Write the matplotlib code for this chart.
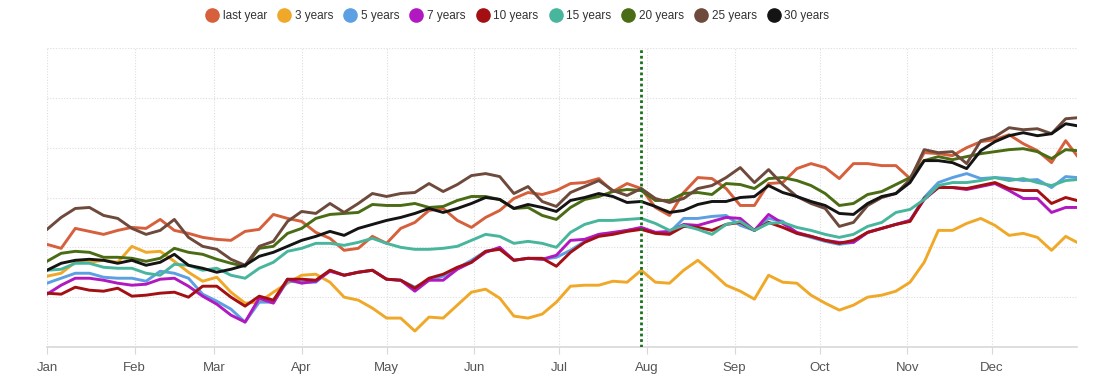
import numpy as np
import matplotlib
matplotlib.use("Agg")
import matplotlib.pyplot as plt
from matplotlib.lines import Line2D

# ---- data ----
start = np.datetime64("2023-01-01")
day_offsets = list(range(0, 365, 5)) + [364]
dates = start + np.array(day_offsets).astype("timedelta64[D]")

last_year = [103,99,119,116,113,117,120,119,128,117,114,110,108,107,116,118,133,129,126,115,109,97,99,111,104,119,125,137,139,127,120,130,137,149,155,153,157,164,165,169,156,164,159,140,132,155,170,169,159,142,142,164,165,179,184,180,169,184,184,182,182,169,195,194,192,200,206,208,213,204,197,185,207,192]
years_3 = [71,74,85,85,87,85,101,95,96,86,75,66,70,55,44,45,55,64,72,73,65,50,47,39,29,29,16,30,29,42,55,58,49,31,29,33,45,61,62,62,66,65,77,65,64,77,87,75,62,56,48,72,65,64,52,44,37,42,50,52,56,65,85,117,117,124,129,122,112,114,110,97,111,105]
years_5 = [64,69,74,74,70,69,69,66,76,74,69,53,46,38,25,45,45,66,65,65,77,72,75,77,68,67,60,67,71,79,87,96,99,87,89,88,90,97,106,113,114,117,119,115,115,129,129,131,132,122,117,129,126,114,110,106,103,105,115,119,123,127,150,165,170,174,169,170,169,167,168,160,171,170]
years_7 = [53,62,69,69,67,64,62,63,68,69,61,51,43,32,25,49,44,68,64,66,76,72,75,77,68,67,56,67,67,78,85,95,100,87,89,88,92,107,108,113,115,117,120,115,116,123,122,126,130,129,117,133,124,115,111,107,105,105,115,119,123,127,148,160,160,158,161,164,157,149,149,135,140,140]
years_10 = [54,53,60,57,56,59,51,52,54,55,50,61,61,50,41,51,47,68,68,67,77,72,75,77,68,67,59,69,73,80,85,96,98,87,89,89,81,95,105,111,113,116,118,114,113,121,120,117,123,125,117,125,120,114,111,107,104,107,115,119,123,126,149,160,160,159,162,165,159,157,157,144,150,147]
years_15 = [77,78,84,84,80,79,79,74,72,83,82,77,79,72,69,79,85,96,99,104,104,102,105,109,104,100,98,98,99,101,107,113,111,104,106,104,100,115,123,127,127,128,129,124,117,122,118,113,123,126,117,124,125,120,117,113,110,113,121,125,135,138,148,162,165,165,167,170,167,169,165,162,167,168]
years_20 = [86,94,96,95,90,90,89,86,89,99,95,93,88,84,81,99,101,114,119,129,133,134,135,143,142,142,144,140,141,147,151,151,148,139,140,132,128,140,148,151,156,158,157,147,147,154,155,153,164,163,159,169,170,167,162,154,142,144,153,156,163,170,187,191,188,191,194,196,198,199,196,189,198,197]
years_25 = [118,130,139,140,132,129,119,113,117,128,110,101,98,88,82,101,106,126,136,134,144,135,144,154,151,154,155,164,156,163,172,174,171,154,161,146,141,155,161,167,157,152,159,149,145,149,159,162,170,180,165,178,163,151,144,139,121,125,142,150,154,168,198,195,196,184,207,211,220,218,219,214,229,230]
years_30 = [77,84,87,88,87,84,87,82,85,93,82,79,75,78,82,91,95,101,107,111,116,112,119,123,127,130,134,139,135,139,144,150,148,139,143,140,136,147,150,154,151,145,146,141,135,137,143,146,146,150,151,162,155,151,146,142,134,133,144,151,154,165,187,187,185,179,197,206,212,215,212,214,224,222]

series_names = ["last year", "3 years", "5 years", "7 years", "10 years",
                "15 years", "20 years", "25 years", "30 years"]
series_values = [last_year, years_3, years_5, years_7, years_10,
                 years_15, years_20, years_25, years_30]
series_colors = ["#d65f3c", "#f0a828", "#5c9fe3", "#b218c0", "#a30f12",
                 "#48b69d", "#4a6c14", "#6e4a3c", "#141414"]

marker_date = np.datetime64("2023-07-30")
month_labels = ["Jan", "Feb", "Mar", "Apr", "May", "Jun",
                "Jul", "Aug", "Sep", "Oct", "Nov", "Dec"]

# ---- figure ----
fig = plt.figure(figsize=(10.97, 3.89), dpi=100)
ax = fig.add_axes([47/1097, 42/389, 1030/1097, 299/389])

for name, vals, col in zip(series_names, series_values, series_colors):
    ax.plot(dates, vals, color=col, lw=2.1, label=name, solid_joinstyle="round")

ax.axvline(marker_date, color="#17701a", lw=2.0, ls=(0, (1.0, 1.0)), zorder=5)

ax.set_xlim(np.datetime64("2023-01-01"), np.datetime64("2023-12-31"))
ax.set_ylim(0, 300)
ax.set_yticks(np.arange(0, 301, 50))
ax.tick_params(axis="y", left=False, labelleft=False)

month_starts = [np.datetime64(f"2023-{m:02d}-01") for m in range(1, 13)]
ax.set_xticks(month_starts)
ax.set_xticklabels(month_labels, fontsize=9.5, color="#555555",
                   family=["Liberation Sans Narrow", "Liberation Sans", "DejaVu Sans"])
ax.tick_params(axis="x", length=5, color="#d8d8d8", pad=6)

ax.grid(True, which="major", color="#dddddd", lw=0.8, ls=(0, (1, 1.5)))
ax.set_axisbelow(True)
for s in ["top", "right", "left"]:
    ax.spines[s].set_visible(False)
ax.spines["bottom"].set_color("#d8d8d8")
ax.spines["bottom"].set_linewidth(1.2)

handles = [Line2D([], [], marker="o", ls="none", markersize=9.5,
                  markerfacecolor=c, markeredgecolor=c) for c in series_colors]
fig.legend(handles, series_names, loc="upper center", bbox_to_anchor=(0.4715, 0.995),
           ncol=9, frameon=False, handletextpad=0.3, handlelength=1.2,
           columnspacing=0.85, borderaxespad=0.3,
           prop={"family": ["Liberation Sans", "DejaVu Sans"], "size": 8.5},
           labelcolor="#333333")

fig.savefig("out.png", dpi=100)
